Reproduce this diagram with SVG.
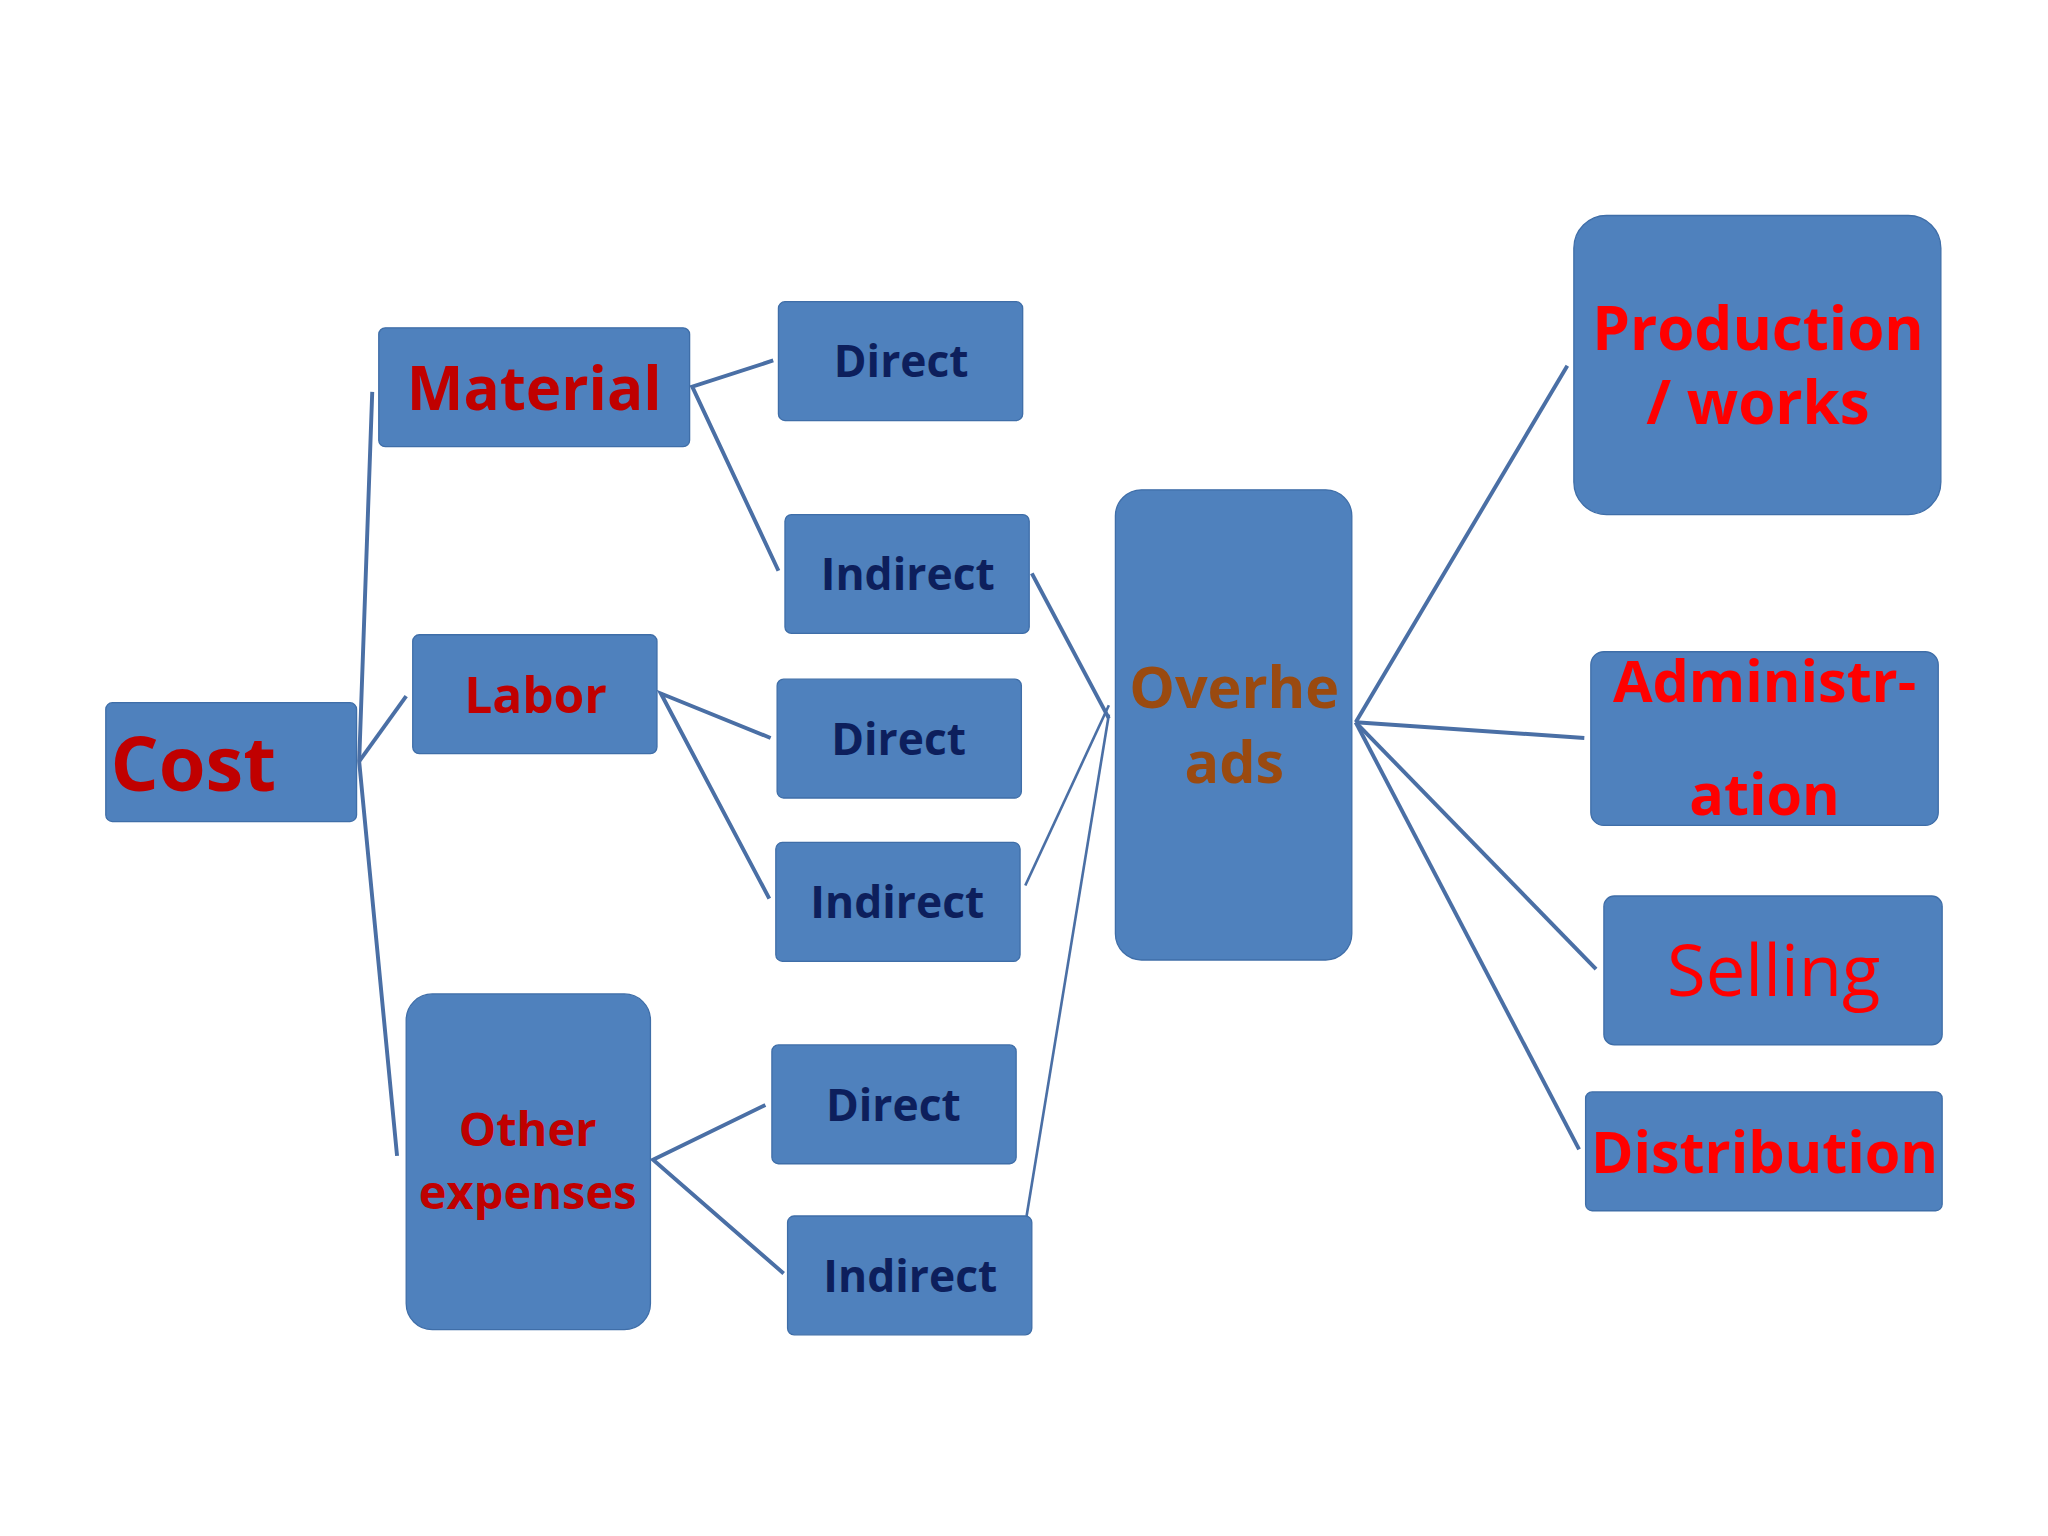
<svg xmlns="http://www.w3.org/2000/svg" width="2048" height="1536" viewBox="0 0 2048 1536">
<style>
.n{fill:#4f81bd;stroke:#3f6ea8;stroke-width:1}
.c{fill:none;stroke:#4a6fa5;stroke-width:3}
text{font-family:"Open Sans","Liberation Sans",sans-serif;font-weight:bold;text-anchor:middle;dominant-baseline:central}
.r{fill:#c00000}.b{fill:#0d1f5c;font-size:34px}.f{fill:#ff0000}
</style>
<rect width="2048" height="1536" fill="#fff"/>
<g transform="scale(1.3061)">
<g id="connectors">
<polyline class="c" points="285,300 275,583 304,885"/>
<line class="c" x1="275" y1="583" x2="311" y2="533"/>
<polyline class="c" points="592,276 530,296 596,437"/>
<polyline class="c" points="590,565 506,531 589,688"/>
<polyline class="c" points="586,846 500,888 600,975"/>
<line class="c" x1="790" y1="439" x2="849" y2="550"/>
<line class="c" x1="785" y1="678" x2="849" y2="540" style="stroke-width:2"/>
<line class="c" x1="786" y1="931" x2="849" y2="547" style="stroke-width:2"/>
<line class="c" x1="1038" y1="553" x2="1200" y2="280"/>
<line class="c" x1="1038" y1="553" x2="1213" y2="565"/>
<line class="c" x1="1038" y1="553" x2="1222" y2="742"/>
<line class="c" x1="1038" y1="553" x2="1209" y2="880"/>
</g>
<g id="cost"><rect class="n" x="81" y="538" width="192" height="91" rx="5"/><text class="r" x="148" y="583" style="font-size:58px">Cost</text></g>
<g id="material"><rect class="n" x="290" y="251" width="238" height="91" rx="5"/><text class="r" x="409" y="296" style="font-size:46px">Material</text></g>
<g id="labor"><rect class="n" x="316" y="486" width="187" height="91" rx="5"/><text class="r" x="410" y="531" style="font-size:38px">Labor</text></g>
<g id="other"><rect class="n" x="311" y="761" width="187" height="257" rx="20"/><text class="r" x="404" y="864" style="font-size:36px">Other</text><text class="r" x="404" y="912" style="font-size:36px">expenses</text></g>
<g id="direct1"><rect class="n" x="596" y="231" width="187" height="91" rx="5"/><text class="b" x="690" y="276">Direct</text></g>
<g id="indirect1"><rect class="n" x="601" y="394" width="187" height="91" rx="5"/><text class="b" x="695" y="439">Indirect</text></g>
<g id="direct2"><rect class="n" x="595" y="520" width="187" height="91" rx="5"/><text class="b" x="688" y="565">Direct</text></g>
<g id="indirect2"><rect class="n" x="594" y="645" width="187" height="91" rx="5"/><text class="b" x="687" y="690">Indirect</text></g>
<g id="direct3"><rect class="n" x="591" y="800" width="187" height="91" rx="5"/><text class="b" x="684" y="845">Direct</text></g>
<g id="indirect3"><rect class="n" x="603" y="931" width="187" height="91" rx="5"/><text class="b" x="697" y="976">Indirect</text></g>
<g id="overheads"><rect class="n" x="854" y="375" width="181" height="360" rx="20"/><text x="945" y="525" style="font-size:44px;fill:#9a4a10">Overhe</text><text x="945" y="583" style="font-size:44px;fill:#9a4a10">ads</text></g>
<g id="production"><rect class="n" x="1205" y="165" width="281" height="229" rx="25"/><text class="f" x="1346" y="250" style="font-size:46px">Production</text><text class="f" x="1346" y="307" style="font-size:46px">/ works</text></g>
<g id="administration"><rect class="n" x="1218" y="499" width="266" height="133" rx="10"/><text class="f" x="1351" y="521" style="font-size:44px">Administr-</text><text class="f" x="1351" y="607" style="font-size:44px">ation</text></g>
<g id="selling"><rect class="n" x="1228" y="686" width="259" height="114" rx="8"/><text class="f" x="1358" y="742" style="font-size:54px;font-weight:normal">Selling</text></g>
<g id="distribution"><rect class="n" x="1214" y="836" width="273" height="91" rx="5"/><text class="f" x="1351" y="881" style="font-size:44px">Distribution</text></g>
</g>
</svg>
